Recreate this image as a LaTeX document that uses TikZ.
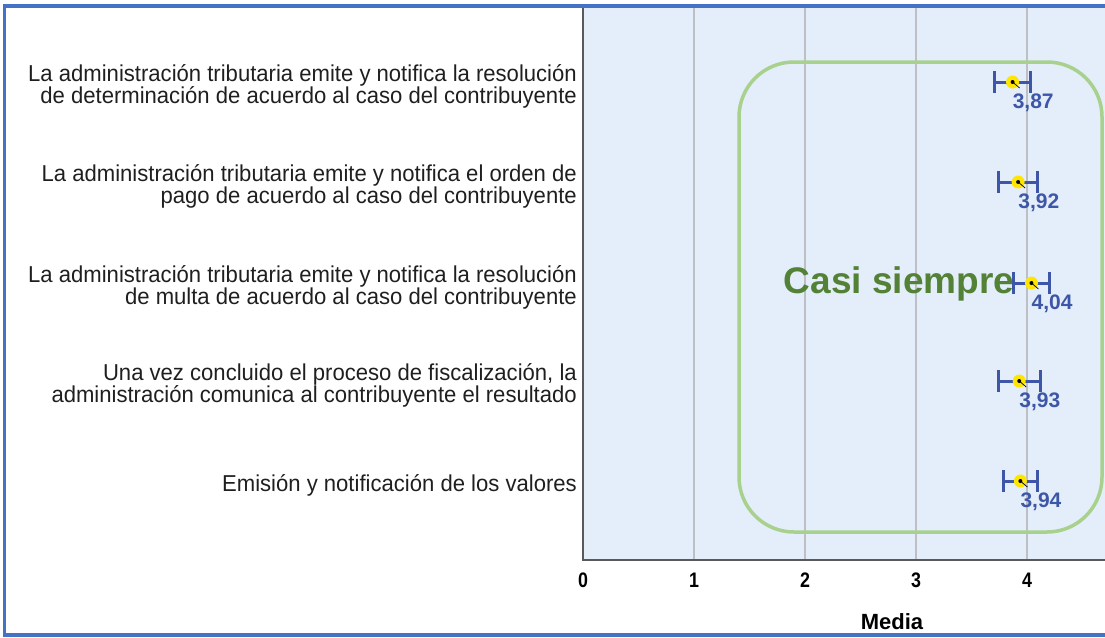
\documentclass[tikz,border=0pt]{standalone}
\usepackage{fontspec}
\setmainfont{Liberation Sans}
\newfontfamily\estrecha[FakeStretch=0.96]{Liberation Sans}
\newfontfamily\angosta[FakeStretch=0.85]{Liberation Sans}

\definecolor{marco}{HTML}{4472C4}
\definecolor{fondo}{HTML}{E3EEFA}
\definecolor{rejilla}{HTML}{BDBFC2}
\definecolor{azulvalor}{HTML}{3E56A8}
\definecolor{verdecaja}{HTML}{A9D18E}
\definecolor{verdetexto}{HTML}{538135}
\definecolor{amarillo}{HTML}{FFE600}

\tikzset{
  etiqueta/.style={anchor=east, align=right, inner sep=0pt, text=black!88,
    font=\estrecha\fontsize{23}{22}\selectfont},
  valor/.style={anchor=north west, inner sep=0pt, text=azulvalor,
    font=\bfseries\fontsize{21}{21}\selectfont},
  barra/.style={draw=azulvalor, line width=3pt},
  marca/.style={anchor=center, inner sep=0pt, font=\angosta\bfseries\fontsize{21}{21}\selectfont}
}

\begin{document}
\begin{tikzpicture}[x=1pt, y=-1pt]
    \useasboundingbox (0,0) rectangle (1105,637);

    % Zona del grafico
    \fill[fondo] (583,8) rectangle (1105,560);
    \foreach \k in {1,...,4}
        \draw[rejilla, line width=1.4pt] ({583+111*\k},8) -- ({583+111*\k},560);
    \draw[black!65, line width=1.4pt] (583,8) -- (583,560) -- (1105,560);

    % Marcas del eje
    \foreach \k in {0,...,4}
        \node[marca] (t\k) at ({583+111*\k},580) {\k};
    \node[anchor=center, inner sep=0pt, font=\bfseries\fontsize{22}{22}\selectfont] (eje) at (892,622) {Media};

    % Caja verde
    \draw[verdecaja, line width=3.5pt, rounded corners=55pt] (739,62) rectangle (1102,532);
    \node[anchor=center, inner sep=0pt, text=verdetexto, font=\bfseries\fontsize{37}{37}\selectfont] (casi) at (899,284) {Casi siempre};

    % Medias con barras de error
    \foreach \fila/\media/\err/\texto/\nombre [count=\i] in {
        82/3.87/0.165/{3,87}/{La administración tributaria emite y notifica la resolución\\de determinación de acuerdo al caso del contribuyente},
        182/3.92/0.175/{3,92}/{La administración tributaria emite y notifica el orden de\\pago de acuerdo al caso del contribuyente},
        283/4.04/0.165/{4,04}/{La administración tributaria emite y notifica la resolución\\de multa de acuerdo al caso del contribuyente},
        381/3.93/0.19/{3,93}/{Una vez concluido el proceso de fiscalización, la\\administración comunica al contribuyente el resultado},
        481/3.94/0.15/{3,94}/{Emisión y notificación de los valores}}
    {
        \node[etiqueta] (p\i) at (577,\fila+4) {\nombre};
        \coordinate (m\i) at ({583+111*\media},\fila);
        \coordinate (a\i) at ({583+111*(\media-\err)},\fila);
        \coordinate (b\i) at ({583+111*(\media+\err)},\fila);
        \draw[barra] (a\i) -- (b\i);
        \draw[barra] ([yshift=11pt]a\i) -- ([yshift=-11pt]a\i);
        \draw[barra] ([yshift=11pt]b\i) -- ([yshift=-11pt]b\i);
        \fill[amarillo] (m\i) circle (6.5pt);
        \fill[black] (m\i) circle (2pt);
        \draw[black, line width=0.7pt] (m\i) -- ++(7,6);
        \node[valor] (v\i) at ([yshift=-12pt]m\i) {\texto};
    }

    % Marco azul
    \draw[marco, line width=3.5pt] (1105,6) -- (4.5,6) -- (4.5,635) -- (1105,635);
\end{tikzpicture}
\end{document}
